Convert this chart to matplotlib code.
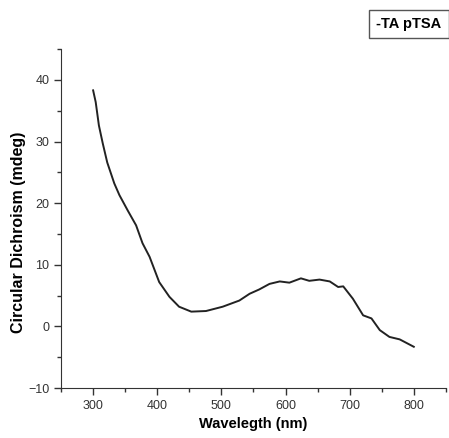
import numpy as np
import matplotlib.pyplot as plt
from matplotlib.ticker import MultipleLocator

plt.rcParams['font.family'] = ['Liberation Sans', 'DejaVu Sans']

# wavelength (nm) and CD signal (mdeg)
wavelength = [300, 304, 309, 315, 322, 333, 341, 354, 367, 377, 388, 403, 419,
              434, 453, 476, 502, 528, 544, 559, 575, 591, 606, 624, 637, 653,
              669, 682, 690, 705, 721, 734, 747, 762, 778, 800]
cd = [38.3, 36.4, 32.6, 29.7, 26.6, 23.2, 21.3, 18.8, 16.4, 13.5, 11.3, 7.2, 4.8,
      3.2, 2.4, 2.5, 3.2, 4.2, 5.3, 6.0, 6.9, 7.3, 7.1, 7.8, 7.4, 7.6,
      7.3, 6.4, 6.5, 4.5, 1.8, 1.3, -0.6, -1.7, -2.1, -3.3]

fig = plt.figure(figsize=(4.49, 4.38), dpi=100)
ax = fig.add_axes([0.136, 0.114, 0.857, 0.774])

ax.plot(wavelength, cd, color='#222222', linewidth=1.4)

ax.set_xlim(250, 850)
ax.set_ylim(-10, 45)
ax.set_xticks([300, 400, 500, 600, 700, 800])
ax.set_yticks([-10, 0, 10, 20, 30, 40])
ax.xaxis.set_minor_locator(MultipleLocator(50))
ax.yaxis.set_minor_locator(MultipleLocator(5))
ax.tick_params(which='major', direction='out', length=5, width=1, labelsize=9, colors='#333333')
ax.tick_params(which='minor', direction='out', length=3, width=1, colors='#333333')
for s in ['top', 'right']:
    ax.spines[s].set_visible(False)
for s in ['left', 'bottom']:
    ax.spines[s].set_color('#333333')

ax.set_xlabel('Wavelegth (nm)', fontsize=10.5, fontweight='bold')
ax.set_ylabel('Circular Dichroism (mdeg)', fontsize=11.5, fontweight='bold')
ax.xaxis.set_label_coords(0.5, -0.085)
ax.yaxis.set_label_coords(-0.09, 0.46)

fig.text(0.838, 0.945, '-TA pTSA', fontsize=10.5, fontweight='bold', va='center', ha='left',
         bbox=dict(boxstyle='square,pad=0.5', facecolor='white', edgecolor='#555555', linewidth=1))

fig.savefig('out.png', dpi=100)
